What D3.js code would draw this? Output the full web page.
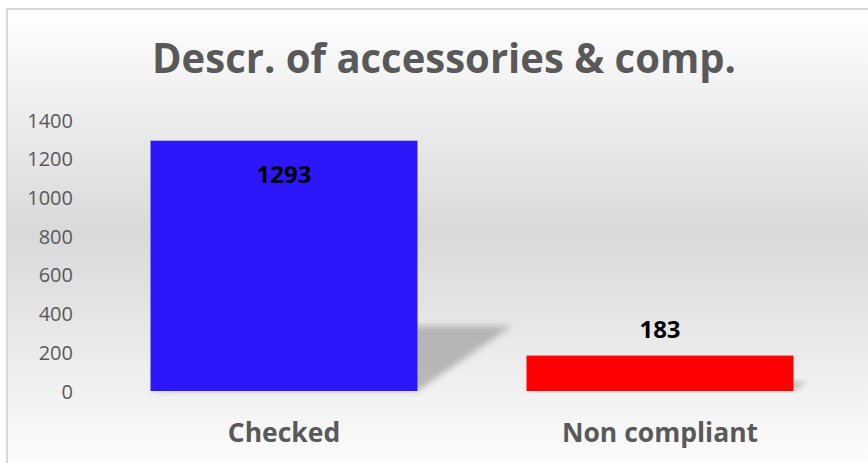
<!DOCTYPE html>
<html>
<head>
<meta charset="utf-8">
<script src="https://cdn.jsdelivr.net/npm/d3@7"></script>
<style>
    body { margin: 0; background: #fff; }
    svg { display: block; }
</style>
</head>
<body>
<svg id="chart" width="868" height="463"></svg>
<script>
/***************************************************************
    Data
****************************************************************/
const chartTitle = "Descr. of accessories & comp.";
const categories = ["Checked", "Non compliant"];
const counts = [1293, 183];
const barColors = ["#2b17fa", "#ff0000"];
const yTicks = [0, 200, 400, 600, 800, 1000, 1200, 1400];

/***************************************************************
    Setup
****************************************************************/
const svg = d3.select("#chart");
const textGray = "#595959";

const defs = svg.append("defs");
const grad = defs.append("linearGradient")
    .attr("id", "bg").attr("x1", 0).attr("y1", 0).attr("x2", 0).attr("y2", 1);
grad.append("stop").attr("offset", "0%").attr("stop-color", "#ffffff");
grad.append("stop").attr("offset", "48%").attr("stop-color", "#d9d9d9");
grad.append("stop").attr("offset", "100%").attr("stop-color", "#ffffff");

defs.append("filter").attr("id", "blur")
    .attr("x", "-20%").attr("y", "-20%").attr("width", "140%").attr("height", "140%")
    .append("feGaussianBlur").attr("stdDeviation", 3);

// chart area with border
svg.append("rect")
    .attr("x", 7).attr("y", 9).attr("width", 880).attr("height", 470)
    .attr("fill", "url(#bg)")
    .attr("stroke", "#d9d9d9").attr("stroke-width", 2);

/***************************************************************
    Scales / Axes
****************************************************************/
const x = d3.scaleBand()
    .domain(categories)
    .range([96, 848])
    .paddingInner(0.29)
    .paddingOuter(0.145);

const y = d3.scaleLinear()
    .domain([0, 1400])
    .range([391, 120]);

const yAxis = svg.append("g")
    .attr("transform", "translate(73,0)")
    .call(d3.axisLeft(y).tickValues(yTicks).tickFormat(d3.format("d")).tickSize(0).tickPadding(0));
yAxis.select(".domain").remove();
yAxis.selectAll("text")
    .attr("fill", textGray)
    .attr("font-family", "'Open Sans', sans-serif")
    .attr("font-size", 20)
    .attr("dy", "0.35em");

const xAxis = svg.append("g")
    .attr("transform", "translate(0,391)")
    .call(d3.axisBottom(x).tickSize(0).tickPadding(0));
xAxis.select(".domain").remove();
xAxis.selectAll("text")
    .attr("fill", textGray)
    .attr("font-family", "'Open Sans', sans-serif")
    .attr("font-weight", "bold")
    .attr("font-size", 26.5)
    .attr("dy", 0)
    .attr("y", 51);

/***************************************************************
    Bars
****************************************************************/
const data = categories.map((c, i) => ({ cat: c, value: counts[i], color: barColors[i] }));

// perspective shadow behind each bar
svg.append("g").selectAll("path").data(data).enter().append("path")
    .attr("d", d => {
        const x0 = x(d.cat), x1 = x(d.cat) + x.bandwidth();
        const h = (y(0) - y(d.value)) * 0.26;
        const s = h * 1.45;
        return `M${x0},${y(0)}L${x1},${y(0)}L${x1 + s},${y(0) - h}L${x0 + s},${y(0) - h}Z`;
    })
    .attr("fill", "#9a9a9a")
    .attr("opacity", 0.65)
    .attr("filter", "url(#blur)");

svg.append("g").selectAll("rect").data(data).enter().append("rect")
    .attr("x", d => x(d.cat))
    .attr("y", d => y(d.value))
    .attr("width", x.bandwidth())
    .attr("height", d => y(0) - y(d.value))
    .attr("fill", d => d.color);

// value labels: inside the tall bar, above the short one
svg.append("g").selectAll("text").data(data).enter().append("text")
    .attr("x", d => x(d.cat) + x.bandwidth() / 2)
    .attr("y", d => y(d.value) > 300 ? y(d.value) - 26 : y(d.value) + 34)
    .attr("dy", "0.35em")
    .attr("text-anchor", "middle")
    .attr("font-family", "'Open Sans', sans-serif")
    .attr("font-weight", "bold")
    .attr("font-size", 24)
    .attr("fill", "#000")
    .text(d => d.value);

/***************************************************************
    Title
****************************************************************/
svg.append("text")
    .attr("x", 444)
    .attr("y", 73)
    .attr("text-anchor", "middle")
    .attr("font-family", "'Open Sans', sans-serif")
    .attr("font-weight", "bold")
    .attr("font-size", 41)
    .attr("fill", textGray)
    .attr("textLength", 584)
    .attr("lengthAdjust", "spacingAndGlyphs")
    .text(chartTitle);
</script>
</body>
</html>
